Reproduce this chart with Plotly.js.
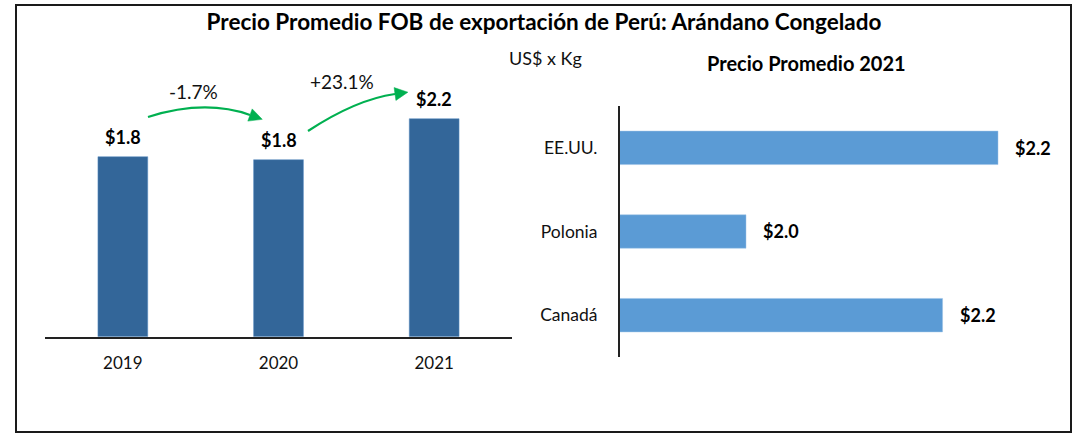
<!DOCTYPE html>
<html>
<head>
<meta charset="utf-8">
<script src="https://cdn.plot.ly/plotly-3.0.1.min.js"></script>
<style>html,body{margin:0;padding:0;background:#fff;}#chart{width:1086px;height:434px;}</style>
</head>
<body>
<div id="chart"></div>
<script>
// ---- data ----
const years = ['2019', '2020', '2021'];
const precioAnual = [1.80, 1.77, 2.18];
const cambios = ['-1.7%', '+23.1%'];
const paises = ['EE.UU.', 'Polonia', 'Canadá'];
const precio2021 = [2.22, 1.97, 2.165];
const titulo = 'Precio Promedio FOB de exportación de Perú: Arándano Congelado';
const subtitulo = 'Precio Promedio 2021';
const unidad = 'US$ x Kg';

// ---- helpers (pixel -> paper) ----
const W = 1086, H = 434;
const px = x => x / W;
const py = y => 1 - y / H;
const FONT = 'Lato, "Open Sans", sans-serif';
const GREEN = '#00B050';
const yearIdx = years.map((_, i) => i);

function curvePath(p0, c, p2) {
  return 'M ' + px(p0[0]) + ' ' + py(p0[1]) + ' Q ' + px(c[0]) + ' ' + py(c[1]) + ' ' + px(p2[0]) + ' ' + py(p2[1]);
}
function headPath(c, p2, len, half) {
  const dx = p2[0] - c[0], dy = p2[1] - c[1];
  const n = Math.hypot(dx, dy), ux = dx / n, uy = dy / n;
  const tip = [p2[0] + ux * len, p2[1] + uy * len];
  const a = [p2[0] - uy * half, p2[1] + ux * half];
  const b = [p2[0] + uy * half, p2[1] - ux * half];
  return 'M ' + px(tip[0]) + ' ' + py(tip[1]) + ' L ' + px(a[0]) + ' ' + py(a[1]) + ' L ' + px(b[0]) + ' ' + py(b[1]) + ' Z';
}

const traces = [
  {
    type: 'bar', x: yearIdx, y: precioAnual, xaxis: 'x', yaxis: 'y',
    marker: {color: '#336699', line: {color: '#5b8fc4', width: 0.5}},
    width: 0.32, hoverinfo: 'skip'
  },
  {
    type: 'bar', orientation: 'h', y: paises, x: precio2021, xaxis: 'x2', yaxis: 'y2',
    marker: {color: '#5B9BD5', line: {color: '#9DC3E6', width: 0.5}},
    width: 0.40, hoverinfo: 'skip'
  }
];

const annotations = [];
yearIdx.forEach(i => {
  annotations.push({
    x: i, y: precioAnual[i], xref: 'x', yref: 'y', text: '$' + precioAnual[i].toFixed(1),
    showarrow: false, xanchor: 'center', yanchor: 'middle', yshift: 20,
    font: {family: FONT, size: 18, color: '#000', weight: 'bold'}
  });
});
paises.forEach((p, i) => {
  annotations.push({
    x: precio2021[i], y: p, xref: 'x2', yref: 'y2', text: '$' + precio2021[i].toFixed(1),
    showarrow: false, xanchor: 'left', yanchor: 'middle', xshift: 15,
    font: {family: FONT, size: 18, color: '#000', weight: 'bold'}
  });
});
annotations.push(
  {x: px(193), y: py(91), xref: 'paper', yref: 'paper', text: cambios[0], showarrow: false,
   xanchor: 'center', yanchor: 'middle', font: {family: FONT, size: 19, color: '#111'}},
  {x: px(342), y: py(82), xref: 'paper', yref: 'paper', text: cambios[1], showarrow: false,
   xanchor: 'center', yanchor: 'middle', font: {family: FONT, size: 19, color: '#111'}},
  {x: px(545), y: py(58), xref: 'paper', yref: 'paper', text: unidad, showarrow: false,
   xanchor: 'center', yanchor: 'middle', font: {family: FONT, size: 18, color: '#111'}},
  {x: px(806), y: py(63), xref: 'paper', yref: 'paper', text: subtitulo, showarrow: false,
   xanchor: 'center', yanchor: 'middle', font: {family: FONT, size: 20, color: '#000', weight: 'bold'}}
);

const a1 = {p0: [148, 117], c: [205, 99], p2: [250, 115]};
const a2 = {p0: [308, 131], c: [356, 99.5], p2: [395, 94]};
const shapes = [
  {type: 'rect', xref: 'paper', yref: 'paper', x0: px(16), x1: px(1071), y0: py(432), y1: py(5),
   line: {color: '#1a1a1a', width: 2}},
  {type: 'path', xref: 'paper', yref: 'paper', path: curvePath(a1.p0, a1.c, a1.p2), line: {color: GREEN, width: 2.2}},
  {type: 'path', xref: 'paper', yref: 'paper', path: headPath(a1.c, a1.p2, 13, 6.5), fillcolor: GREEN, line: {color: GREEN, width: 0.5}},
  {type: 'path', xref: 'paper', yref: 'paper', path: curvePath(a2.p0, a2.c, a2.p2), line: {color: GREEN, width: 2.2}},
  {type: 'path', xref: 'paper', yref: 'paper', path: headPath(a2.c, a2.p2, 13, 6.5), fillcolor: GREEN, line: {color: GREEN, width: 0.5}}
];

const layout = {
  width: W, height: H,
  margin: {l: 0, r: 0, t: 0, b: 0},
  paper_bgcolor: '#fff', plot_bgcolor: 'rgba(0,0,0,0)',
  showlegend: false,
  font: {family: FONT, color: '#000'},
  title: {text: '<b>' + titulo + '</b>', x: px(544), xanchor: 'center', y: py(22), yanchor: 'middle',
          font: {family: FONT, size: 22.5, color: '#000'}},
  xaxis: {
    domain: [px(45), px(512)], anchor: 'y', type: 'linear', range: [-0.5, 2.5],
    tickvals: yearIdx, ticktext: years,
    showline: true, linecolor: '#222', linewidth: 2, ticks: '', showgrid: false, zeroline: false,
    tickfont: {family: FONT, size: 17, color: '#111'}, ticklabelstandoff: 10
  },
  yaxis: {
    domain: [py(336.7), py(86.7)], anchor: 'x', range: [0, 2.5],
    visible: false, showgrid: false, zeroline: false
  },
  xaxis2: {
    domain: [px(620), px(1060)], anchor: 'y2', range: [1.845, 1.845 + 440 / 1008],
    visible: false, showgrid: false, zeroline: false
  },
  yaxis2: {
    domain: [py(357), py(106)], anchor: 'x2', type: 'category', range: [2.5, -0.5],
    showline: true, linecolor: '#222', linewidth: 2, ticks: '', showgrid: false, zeroline: false,
    tickfont: {family: FONT, size: 17.5, color: '#111'}, ticklabelstandoff: 17
  },
  annotations: annotations,
  shapes: shapes
};

Plotly.newPlot('chart', traces, layout, {displayModeBar: false, staticPlot: true});
</script>
</body>
</html>
